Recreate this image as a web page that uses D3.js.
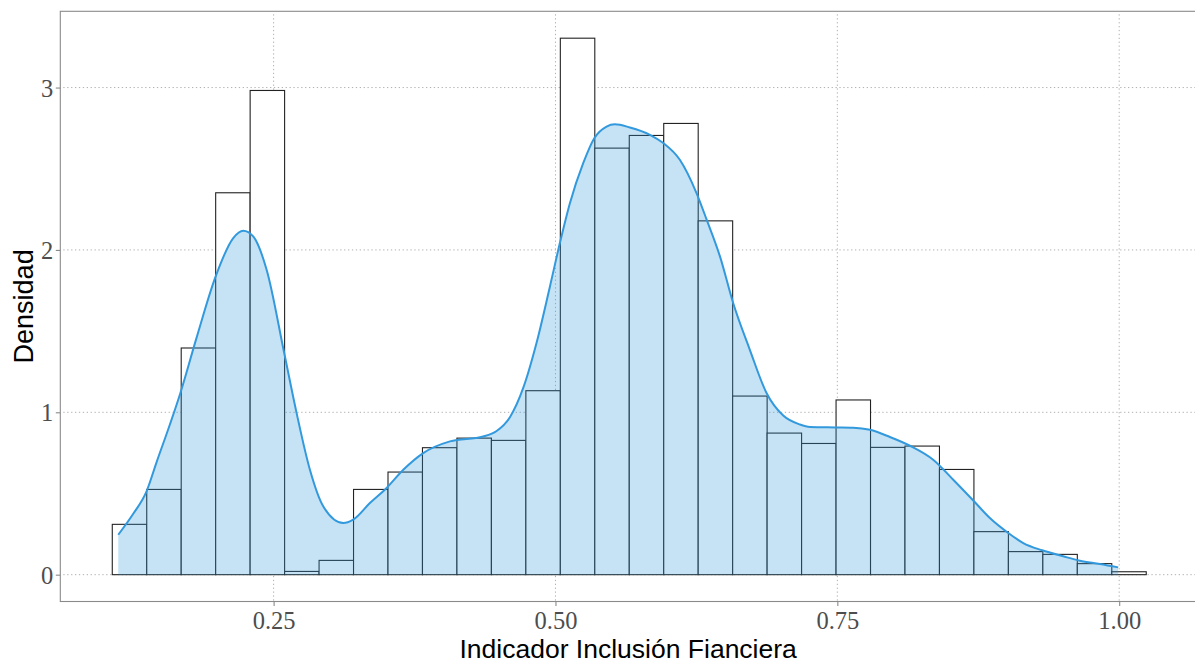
<!DOCTYPE html>
<html>
<head>
<meta charset="utf-8">
<script src="https://cdn.jsdelivr.net/npm/d3@7"></script>
<style>
  html, body { margin: 0; padding: 0; background: #ffffff; }
  svg { display: block; }
</style>
</head>
<body>
<svg id="chart" width="1195" height="663"></svg>
<script>
// ---- data ----
const binStart = 0.1069;
const binWidth = 0.03057;
const histDensity = [0.310, 0.525, 1.396, 2.352, 2.982, 0.020, 0.088, 0.525, 0.632, 0.782,
                     0.841, 0.827, 1.133, 3.304, 2.627, 2.705, 2.779, 2.179, 1.100, 0.872,
                     0.808, 1.076, 0.784, 0.792, 0.648, 0.265, 0.142, 0.125, 0.068, 0.018];
const densX = [0.1122, 0.1255, 0.1374, 0.1463, 0.1580, 0.1669, 0.1817, 0.1986, 0.2142, 0.2231,
               0.2319, 0.2438, 0.2594, 0.2704, 0.2822, 0.2940, 0.3118, 0.3206, 0.3354, 0.3502,
               0.3650, 0.3827, 0.4064, 0.4359, 0.4478, 0.4596, 0.4714, 0.4833, 0.4951, 0.5039,
               0.5128, 0.5246, 0.5344, 0.5453, 0.5527, 0.5660, 0.5838, 0.5956, 0.6103, 0.6251,
               0.6341, 0.6459, 0.6576, 0.6724, 0.6872, 0.7020, 0.7168, 0.7257, 0.7485, 0.7641,
               0.7789, 0.7966, 0.8144, 0.8350, 0.8528, 0.8714, 0.8853, 0.9016, 0.9149, 0.9317,
               0.9503, 0.9651, 0.9829, 0.9991];
const densY = [0.246, 0.375, 0.515, 0.695, 0.925, 1.110, 1.460, 1.837, 2.073, 2.118,
               2.083, 1.878, 1.365, 0.995, 0.646, 0.421, 0.318, 0.339, 0.441, 0.534,
               0.646, 0.749, 0.821, 0.851, 0.885, 0.970, 1.150, 1.430, 1.775, 2.042,
               2.288, 2.534, 2.688, 2.760, 2.774, 2.754, 2.709, 2.658, 2.555, 2.350,
               2.186, 1.960, 1.673, 1.385, 1.119, 0.980, 0.925, 0.910, 0.907, 0.905,
               0.892, 0.848, 0.794, 0.708, 0.585, 0.451, 0.349, 0.257, 0.195, 0.150,
               0.113, 0.086, 0.066, 0.045];
const xTicks = [0.25, 0.50, 0.75, 1.00];
const xTickLabels = ["0.25", "0.50", "0.75", "1.00"];
const yTicks = [0, 1, 2, 3];
const yTickLabels = ["0", "1", "2", "3"];
const xTitle = "Indicador Inclusión Fianciera";
const yTitle = "Densidad";

// ---- layout ----
const panel = { left: 60.3, right: 1198, top: 11.3, bottom: 601.5 };
const svg = d3.select("#chart");

const x = d3.scaleLinear().domain([0.0608, 1.0699]).range([panel.left, panel.right]);
const y = d3.scaleLinear().domain([-0.1652, 3.4696]).range([panel.bottom, panel.top]);

// clip
svg.append("defs").append("clipPath").attr("id", "clip")
  .append("rect")
  .attr("x", panel.left).attr("y", panel.top)
  .attr("width", panel.right - panel.left).attr("height", panel.bottom - panel.top);

const grid = svg.append("g").attr("clip-path", "url(#clip)");
grid.selectAll("line.gy").data(yTicks).enter().append("line")
  .attr("x1", panel.left + 3).attr("x2", panel.right)
  .attr("y1", d => y(d)).attr("y2", d => y(d))
  .attr("stroke", "#b0b0b0").attr("stroke-width", 1)
  .attr("stroke-dasharray", "1.3,2.6");
grid.selectAll("line.gx").data(xTicks).enter().append("line")
  .attr("y1", panel.top + 3).attr("y2", panel.bottom)
  .attr("x1", d => x(d)).attr("x2", d => x(d))
  .attr("stroke", "#b0b0b0").attr("stroke-width", 1)
  .attr("stroke-dasharray", "1.3,2.6");

// histogram
const bins = histDensity.map((v, i) => ({ x0: binStart + i * binWidth, x1: binStart + (i + 1) * binWidth, v }));
const plot = svg.append("g").attr("clip-path", "url(#clip)");
plot.selectAll("rect.bar").data(bins).enter().append("rect")
  .attr("x", d => x(d.x0))
  .attr("y", d => y(d.v))
  .attr("width", d => x(d.x1) - x(d.x0))
  .attr("height", d => y(0) - y(d.v))
  .attr("fill", "#ffffff")
  .attr("stroke", "#222222")
  .attr("stroke-width", 1.1);

// density
const dens = densX.map((v, i) => ({ x: v, y: densY[i] }));
const area = d3.area().x(d => x(d.x)).y0(y(0)).y1(d => y(d.y)).curve(d3.curveMonotoneX);
const line = d3.line().x(d => x(d.x)).y(d => y(d.y)).curve(d3.curveMonotoneX);
plot.append("path").datum(dens).attr("d", area)
  .attr("fill", "#3399dd").attr("fill-opacity", 0.28);
plot.append("path").datum(dens).attr("d", line)
  .attr("fill", "none").attr("stroke", "#3399dd").attr("stroke-width", 2);

// panel border
svg.append("rect")
  .attr("x", panel.left).attr("y", panel.top)
  .attr("width", panel.right - panel.left).attr("height", panel.bottom - panel.top)
  .attr("fill", "none").attr("stroke", "#8a8a8a").attr("stroke-width", 1.1);

// axes
const xAxis = svg.append("g").attr("transform", `translate(0,${panel.bottom})`)
  .call(d3.axisBottom(x).tickValues(xTicks).tickSize(4.5).tickPadding(6)
    .tickFormat((d, i) => xTickLabels[i]));
const yAxis = svg.append("g").attr("transform", `translate(${panel.left},0)`)
  .call(d3.axisLeft(y).tickValues(yTicks).tickSize(4.5).tickPadding(6)
    .tickFormat((d, i) => yTickLabels[i]));
[xAxis, yAxis].forEach(a => {
  a.select(".domain").remove();
  a.selectAll(".tick line").attr("stroke", "#8a8a8a").attr("stroke-width", 1.1);
  a.selectAll(".tick text")
    .attr("fill", "#4d4d4d")
    .style("font-family", "'Liberation Serif', 'Times New Roman', serif")
    .style("font-size", "24.5px");
});
xAxis.selectAll(".tick text").attr("dy", null).attr("y", 27.5);
yAxis.selectAll(".tick text").attr("dy", null).attr("y", 8.5).attr("x", -7);

// titles
svg.append("text")
  .attr("x", (panel.left + panel.right) / 2 - 1).attr("y", 658)
  .attr("text-anchor", "middle")
  .style("font-family", "'Liberation Sans', Arial, sans-serif")
  .style("font-size", "26.5px").attr("fill", "#000")
  .text(xTitle);
svg.append("text")
  .attr("transform", `translate(33,${(panel.top + panel.bottom) / 2}) rotate(-90)`)
  .attr("text-anchor", "middle")
  .style("font-family", "'Liberation Sans', Arial, sans-serif")
  .style("font-size", "27px").attr("fill", "#000")
  .text(yTitle);
</script>
</body>
</html>
